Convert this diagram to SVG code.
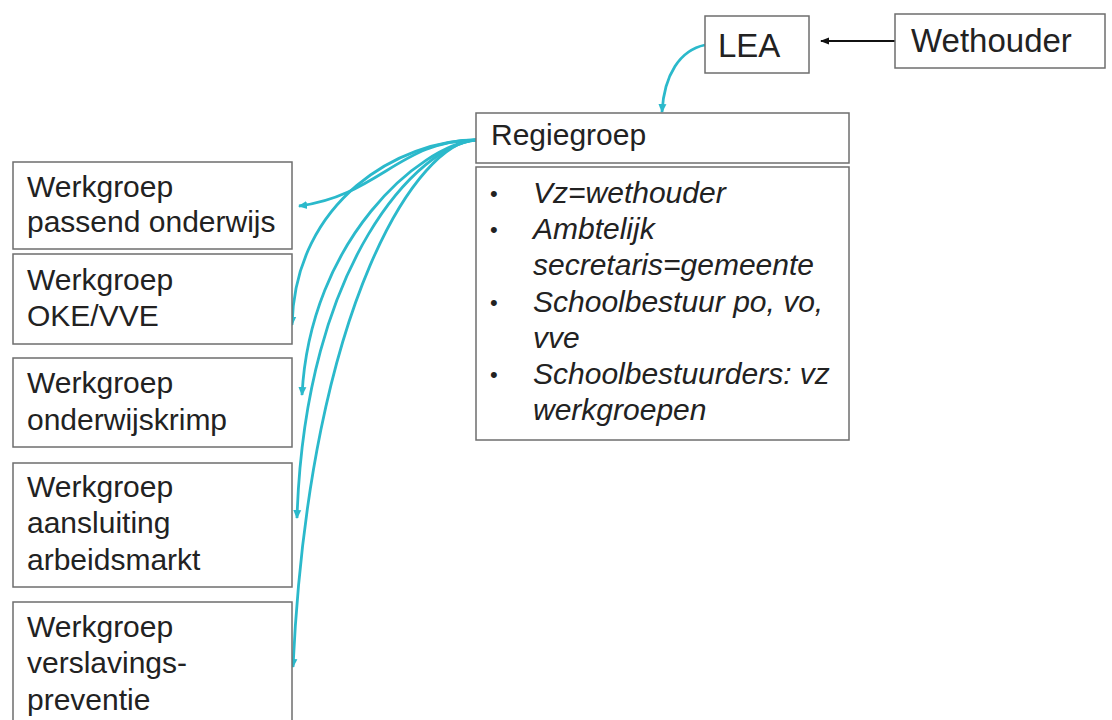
<svg xmlns="http://www.w3.org/2000/svg" width="1112" height="720" viewBox="0 0 1112 720">
<defs>
<style>
.box{fill:#fff;stroke:#6e6e6e;stroke-width:1.5}
.t{font-family:"Liberation Sans",Arial,sans-serif;font-size:30px;fill:#222}
.tb{font-family:"Liberation Sans",Arial,sans-serif;font-size:33px;fill:#222}
.it{font-family:"Liberation Sans",Arial,sans-serif;font-size:30px;font-style:italic;fill:#222}
.bl{font-family:"Liberation Sans",Arial,sans-serif;font-size:22px;fill:#222}
.c{fill:none;stroke:#2bb9cb;stroke-width:2.8}
.k{fill:none;stroke:#111;stroke-width:2}
</style>
<marker id="ah" markerUnits="userSpaceOnUse" markerWidth="10" markerHeight="10" refX="8" refY="5" orient="auto">
<path d="M0,1 L9,5 L0,9 Z" fill="#2bb9cb"/>
</marker>
<marker id="ak" markerUnits="userSpaceOnUse" markerWidth="10" markerHeight="10" refX="8" refY="5" orient="auto">
<path d="M0,1.5 L9,5 L0,8.5 Z" fill="#111"/>
</marker>
</defs>
<rect width="1112" height="720" fill="#fff"/>
<g id="connectors">
<path class="k" d="M895,41 L821,41" marker-end="url(#ak)"/>
<path class="c" d="M705,45 C680,50 664,75 662,112" marker-end="url(#ah)"/>
<path class="c" d="M476,140 C400,140 380,195 299,206" marker-end="url(#ah)"/>
<path class="c" d="M476,140 C400,140 295,200 292,325" marker-end="url(#ah)"/>
<path class="c" d="M476,140 C420,145 310,240 302,395" marker-end="url(#ah)"/>
<path class="c" d="M476,140 C420,145 305,260 297,518" marker-end="url(#ah)"/>
<path class="c" d="M476,140 C420,140 310,300 293,667" marker-end="url(#ah)"/>
</g>
<g id="lea">
<rect class="box" x="705" y="16" width="104" height="57"/>
<text class="tb" x="718" y="57">LEA</text>
</g>
<g id="wethouder">
<rect class="box" x="895" y="14" width="210" height="54"/>
<text class="tb" x="911" y="52">Wethouder</text>
</g>
<g id="regiegroep">
<rect class="box" x="476" y="113" width="373" height="50"/>
<text class="t" x="491" y="145">Regiegroep</text>
</g>
<g id="regiegroep-leden">
<rect class="box" x="476" y="167" width="373" height="273"/>
<g class="bl">
<text x="490" y="201">•</text>
<text x="490" y="237">•</text>
<text x="490" y="310">•</text>
<text x="490" y="382">•</text>
</g>
<text class="it" x="533" y="203">Vz=wethouder</text>
<text class="it" x="533" y="239">Ambtelijk</text>
<text class="it" x="533" y="275">secretaris=gemeente</text>
<text class="it" x="533" y="312">Schoolbestuur po, vo,</text>
<text class="it" x="533" y="348">vve</text>
<text class="it" x="533" y="384">Schoolbestuurders: vz</text>
<text class="it" x="533" y="420">werkgroepen</text>
</g>
<g id="wg-passend">
<rect class="box" x="13" y="162" width="279" height="87"/>
<text class="t" x="27" y="197">Werkgroep</text>
<text class="t" x="27" y="232">passend onderwijs</text>
</g>
<g id="wg-oke">
<rect class="box" x="13" y="254" width="279" height="90"/>
<text class="t" x="27" y="290">Werkgroep</text>
<text class="t" x="27" y="326">OKE/VVE</text>
</g>
<g id="wg-krimp">
<rect class="box" x="13" y="358" width="279" height="89"/>
<text class="t" x="27" y="393">Werkgroep</text>
<text class="t" x="27" y="430">onderwijskrimp</text>
</g>
<g id="wg-arbeidsmarkt">
<rect class="box" x="13" y="463" width="279" height="124"/>
<text class="t" x="27" y="497">Werkgroep</text>
<text class="t" x="27" y="533">aansluiting</text>
<text class="t" x="27" y="570">arbeidsmarkt</text>
</g>
<g id="wg-verslaving">
<rect class="box" x="13" y="602" width="279" height="130"/>
<text class="t" x="27" y="637">Werkgroep</text>
<text class="t" x="27" y="673">verslavings-</text>
<text class="t" x="27" y="710">preventie</text>
</g>
</svg>
